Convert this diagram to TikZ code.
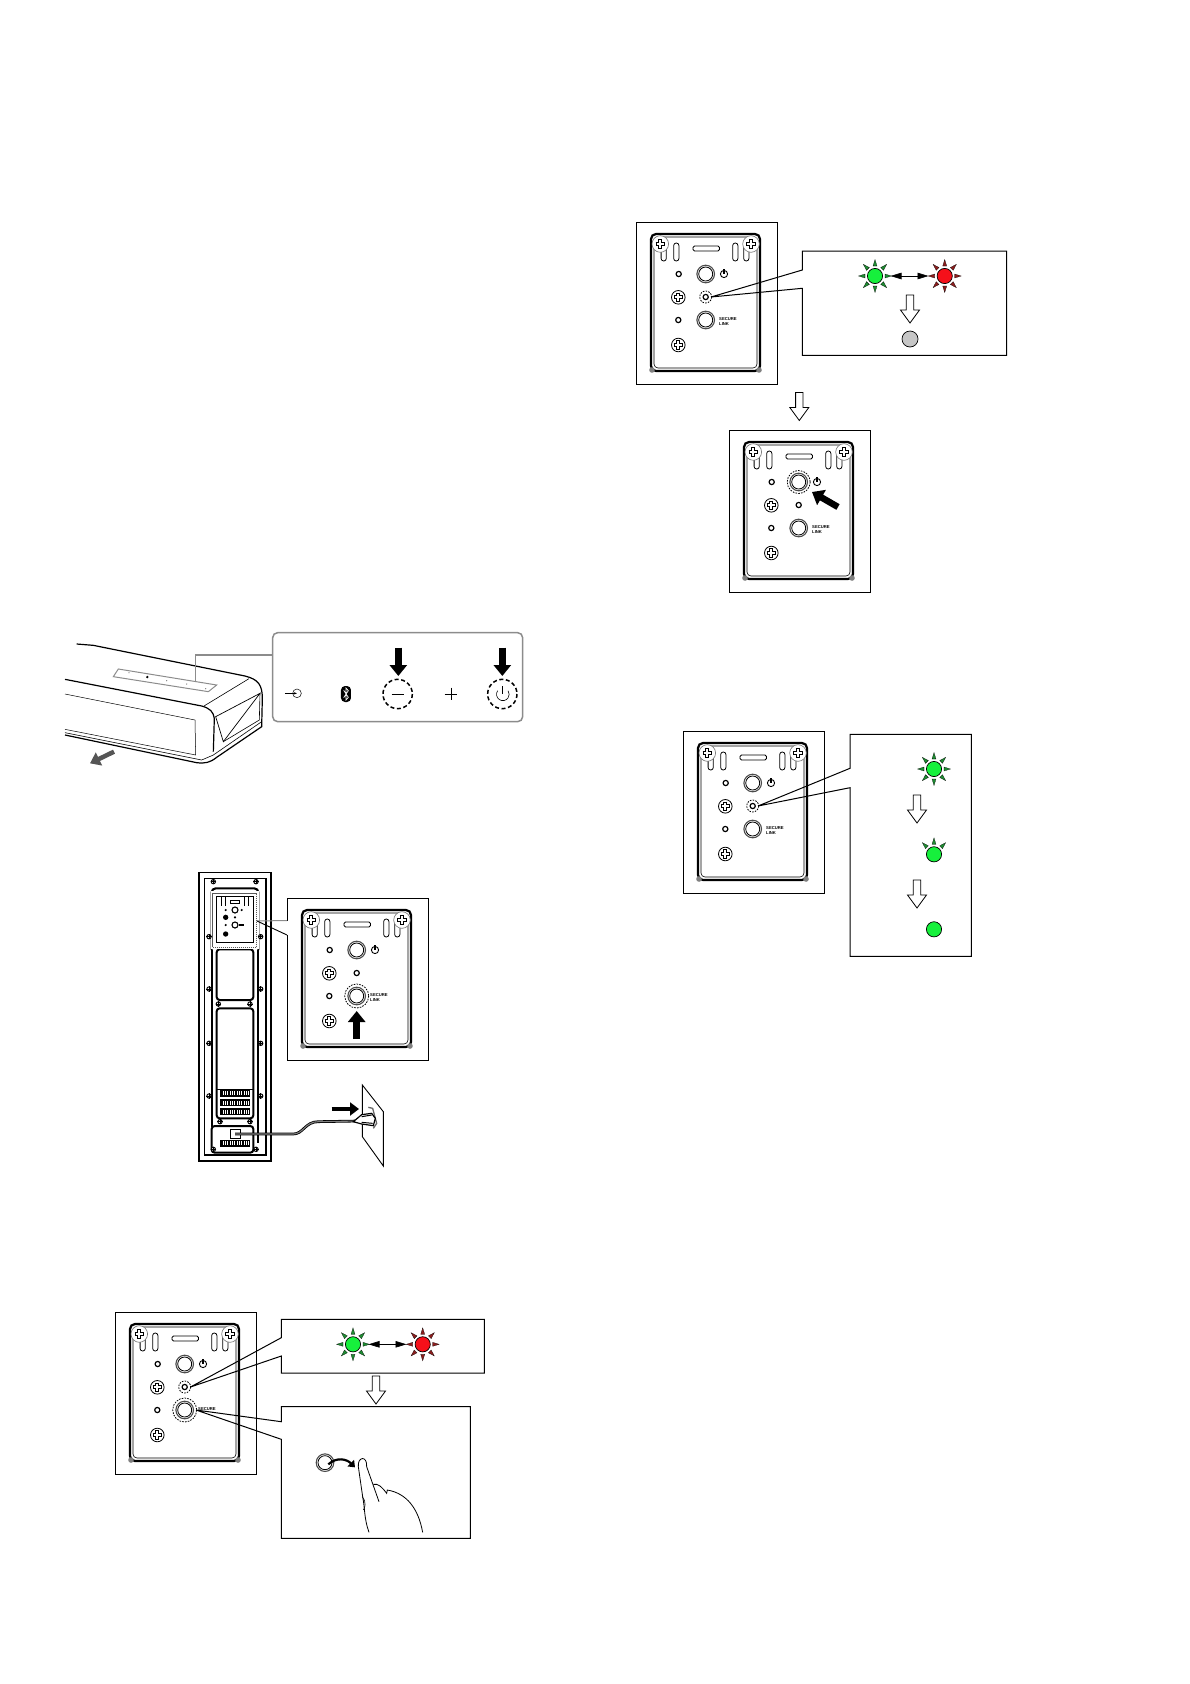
\documentclass[tikz,border=0pt]{standalone}
\usepackage{fontspec}
\setsansfont{Liberation Sans}
\usetikzlibrary{arrows.meta, positioning}

\definecolor{boxgray}{HTML}{8C8C8C}
\definecolor{bargray}{HTML}{555555}
\definecolor{ledgreen}{HTML}{16F03C}
\definecolor{raygreen}{HTML}{1E8C32}
\definecolor{ledred}{HTML}{F5101A}
\definecolor{rayred}{HTML}{8C1E1E}
\definecolor{ledoff}{HTML}{C6C6C6}

\tikzset{
  linktext/.store in=\linktextvalue,
  linktext={SECURE\\LINK},
  blockarrow/.style={-{Triangle[width=17pt,length=11pt]},line width=6.5pt},
  dashcirc/.style={dash pattern=on 1.6pt off 1.2pt,line width=.8pt},
  calloutline/.style={line width=1pt,line join=miter},
  % screw with an outlined cross
  pics/screwhead/.style={code={
    \draw[fill=white,line width=.8pt] (0,0) circle (6.8);
    \draw[line width=3.8pt] (-4.6,0) -- (4.6,0) (0,-4.6) -- (0,4.6);
    \draw[white,line width=2.2pt] (-3.8,0) -- (3.8,0) (0,-3.8) -- (0,3.8);
  }},
  pics/cornerscrew/.style={code={
    \draw[fill=white,line width=.6pt,draw=black!55] (0,0) circle (8.3);
    \draw[line width=3.8pt] (-4.6,0) -- (4.6,0) (0,-4.6) -- (0,4.6);
    \draw[white,line width=2.2pt] (-3.8,0) -- (3.8,0) (0,-3.8) -- (0,3.8);
  }},
  pics/smallled/.style={code={
    \draw[fill=white,line width=1.2pt] (0,0) circle (2.6);
  }},
  pics/bigbutton/.style={code={
    \draw[fill=white,line width=1.1pt,draw=black!70] (0,0) circle (8.8);
    \draw[line width=.8pt] (0,0) circle (7);
  }},
  % the control plate, origin at the frame's top left corner
  pics/panel/.style={code={
    \draw[fill=white,line width=.9pt] (0,0) rectangle (141.5,162.5);
    \draw[line width=2.2pt,rounded corners=5] (15,12) rectangle (124,149);
    \draw[line width=.6pt,rounded corners=4] (18,15) rectangle (121,146);
    \foreach \x/\y in {16/148,123/148} {
      \fill[gray] (\x,\y) circle (2.8);
    }
    \foreach \x in {27.7,40.3,99.3,110.3} {
      \draw[fill=white,line width=.8pt,rounded corners=2.5] (\x-2.6,21) rectangle (\x+2.6,39);
    }
    \draw[fill=white,line width=.8pt,rounded corners=1.5] (57,24) rectangle (83.5,29);
    \pic at (24.3,22) {cornerscrew};
    \pic at (115,22) {cornerscrew};
    \pic at (42.3,75.3) {screwhead};
    \pic at (42.3,123) {screwhead};
    \pic at (42.7,52) {smallled};
    \pic at (42.3,98) {smallled};
    \pic at (69.7,75) {smallled};
    \pic at (69.7,52) {bigbutton};
    \pic at (69.7,98) {bigbutton};
    \draw[line width=.9pt] (88,52) circle (3.6);
    \draw[line width=1.1pt] (88,47) -- (88,52);
    \node[font=\fontsize{4.2}{5.2}\selectfont\sffamily\bfseries,align=left,inner sep=0pt,anchor=north west] (-linktext) at (83,95) {\linktextvalue};
    \coordinate (-power) at (69.7,52);
    \coordinate (-led) at (69.7,75);
    \coordinate (-link) at (69.7,98);
  }},
  % blinking lamp: fill, ray colour, ray directions
  pics/flash/.style n args={3}{code={
    \foreach \a in {#3} {
      \fill[#2,draw=black,line width=.2pt,rotate=\a] (10,-2) -- (16.5,0) -- (10,2) -- cycle;
    }
    \draw[fill=#1,line width=.7pt] (0,0) circle (7.6);
  }},
  pics/hollowdown/.style={code={
    \draw[fill=white,line width=.8pt,line join=miter] (-3.7,0) -- (3.7,0) -- (3.7,15) -- (9.5,15) -- (0,28) -- (-9.5,15) -- (-3.7,15) -- cycle;
  }},
}

% open box with two lines running to its target
\newcommand{\calloutbox}[7]{%
  \draw[calloutline] (#7) -- (#1,#5) -- (#1,#2) -- (#3,#2) -- (#3,#4) -- (#1,#4) -- (#1,#6) -- (#7);
}
\newcommand{\greenred}[3]{%
  \pic (#1g) at (#2,#3) {flash={ledgreen}{raygreen}{0,45,...,315}};
  \pic (#1r) at (#2+69.7,#3) {flash={ledred}{rayred}{0,45,...,315}};
  \coordinate (#1a) at (#2+15.5,#3);
  \coordinate (#1b) at (#2+53.5,#3);
  \draw[{Triangle[length=11pt,width=6.5pt]}-{Triangle[length=11pt,width=6.5pt]},line width=.6pt] (#1a) -- (#1b);
}

\begin{document}
\begin{tikzpicture}[x=1pt,y=-1pt]
  \useasboundingbox (0,0) rectangle (1190,1684);

  % sound bar
  \begin{scope}[shift={(50,620)},scale=1/3]
    \draw[line width=1.2pt] (80,72) -- (130,76) -- (585,168) .. controls (625,178) and (637,195) .. (637,235) -- (635,320) -- (500,412) .. controls (480,428) and (465,431) .. (440,428) -- (45,345);
    \draw[line width=1.2pt] (45,178) -- (455,258) .. controls (480,265) and (490,275) .. (493,295) -- (490,395);
    \draw[line width=.5pt] (45,222) -- (435,300) -- (437,405) -- (45,328);
    \draw[line width=.6pt] (45,338) -- (455,420) -- (490,405) -- (635,305);
    \draw[line width=.6pt] (462,258) -- (597,176);
    \draw[line width=.7pt] (497,290) -- (630,220) -- (520,365) -- cycle;
    \draw[line width=.6pt] (630,220) -- (628,300) -- (520,365);
    \draw[boxgray,fill=white,line width=1pt] (205,147) -- (500,195) -- (475,215) -- (190,170) -- cycle;
    \foreach \x/\y in {237/158,350/182,410/192,467/206} {
      \fill[gray] (\x,\y) circle (2);
    }
    \fill (292,171) circle (4);
    \draw[boxgray,line width=1.1pt] (437,185) -- (437,105) -- (668,105);
    \draw[boxgray,fill=white,line width=1.5pt,rounded corners=5] (668,38) rectangle (1418,305);
    \draw[bargray,-{Triangle[width=14pt,length=10pt]},line width=4.5pt] (192,395) -- (120,430);

    % key icons
    \draw[line width=.5pt] (741,220) circle (13);
    \draw[-{Stealth[length=3pt]},line width=.6pt] (705,220) -- (741,220);
    \fill[rounded corners=4] (873,198) rectangle (903,246);
    \draw[white,line width=.7pt] (881,211) -- (895,232) -- (888,240) -- (888,204) -- (895,212) -- (881,233);
    \draw[line width=.6pt] (1025,222) -- (1061,222);
    \draw[line width=.6pt] (1184,222) -- (1222,222) (1203,203) -- (1203,241);
    \draw[line width=.6pt] (1343,212) arc[start angle=215,end angle=-35,radius=19];
    \draw[line width=.6pt] (1357,199) -- (1357,222);
    \draw[dash pattern=on 4pt off 2.6pt,line width=1.5pt] (1043,222) circle (44);
    \draw[dash pattern=on 4pt off 2.6pt,line width=1.5pt] (1357,222) circle (44);
    \draw[blockarrow] (1045,83) -- (1045,168);
    \draw[blockarrow] (1357,83) -- (1357,168);
  \end{scope}

  % speaker rear with mains cable
  \begin{scope}[shift={(190,860)},scale=1/3]
    \draw[line width=1.6pt] (27,38) rectangle (243,903);
    \draw[line width=1.2pt] (44,55) rectangle (228,885);
    \draw[line width=2.4pt] (27,903) -- (243,903);
    \draw[line width=2.1pt,rounded corners=4] (65,270) -- (65,85) -- (205,85) -- (205,270);
    \draw[line width=2.1pt] (65,270) -- (65,800) (205,270) -- (205,800);
    \draw[line width=2pt,rounded corners=3,fill=white] (80,268) rectangle (190,420);
    \draw[line width=2pt,rounded corners=3,fill=white] (80,445) rectangle (190,775);
    \draw[line width=2pt,rounded corners=3,fill=white] (65,798) rectangle (190,878);
    \draw[line width=2pt] (205,798) -- (205,850);
    \draw[line width=.5pt] (80,688) -- (190,688);
    \draw[white,line width=4pt] (68,100) rectangle (200,262);
    \draw[dash pattern=on 1.2pt off .8pt,line width=1pt,draw=black!65] (68,100) rectangle (200,262);
    \draw[line width=1pt] (78,108) -- (78,248) -- (190,248) -- (190,108) -- cycle;
    % vents
    \foreach \y in {700,728,755,850} {
      \draw[line width=1.1pt] (92,\y-8) rectangle (178,\y+8);
      \foreach \x in {96,103,...,175} {
        \draw[line width=1.1pt] (\x,\y-8) -- (\x,\y+8);
      }
    }
    % fixing screws
    \foreach \x/\y in {70/65,198/65,70/868,198/868,57/230,212/230,57/387,212/387,57/550,212/550,57/708,212/708,85/432,180/432,90/785,180/785} {
      \draw[fill=white,line width=1pt] (\x,\y) circle (6.5);
      \draw[line width=1pt] (\x-8,\y) -- (\x+8,\y) (\x,\y-8) -- (\x,\y+8);
    }
    % small copy of the plate
    \foreach \x in {93,107,162,175} {
      \draw[line width=1pt] (\x,112) -- (\x,138);
    }
    \draw[line width=1pt] (121,122) rectangle (149,129);
    \foreach \x/\y in {107/150,135/172,107/195} {
      \fill (\x,\y) circle (3.5);
    }
    \foreach \y in {172,222} {
      \fill (107,\y) circle (8);
    }
    \foreach \y in {150,195} {
      \draw[line width=1.1pt] (135,\y) circle (9);
    }
    \fill (155,150) circle (3.5);
    \fill (148,191) rectangle (163,199);

    % wall and plug
    \draw[fill=white,line width=.9pt,line join=miter] (517,675) -- (580,755) -- (580,918) -- (517,830) -- cycle;
    \draw[black!60,line width=1.3pt] (535,742) -- (548,745) -- (560,790) -- (550,805);
    \draw[fill=white,line width=1pt] (120,808) rectangle (152,835);
    \coordinate (plugin) at (135,822);
    \coordinate (plugend) at (508,783);
    \draw[line width=2.7pt] (plugin) -- (310,822) .. controls (340,822) and (345,785) .. (385,785) -- (plugend);
    \draw[gray,line width=1.1pt] (plugin) -- (310,822) .. controls (340,822) and (345,785) .. (385,785) -- (plugend);
    \draw[fill=white,line width=1.2pt] (490,785) -- (515,764) -- (545,760) -- (556,775) -- (550,797) -- (515,792) -- cycle;
    \draw[line width=1pt] (515,770) -- (545,765) (515,787) -- (548,790);
    \draw[-{Triangle[width=13pt,length=9pt]},line width=4.5pt] (425,747) -- (507,747);
  \end{scope}

  % plate beside the speaker
  \coordinate (spkplate) at (257,921);
  \pic (pa) at (287,898) {panel};
  \draw[white,line width=2pt] (287,920.5) -- (287,935);
  \draw[boxgray,line width=1pt] (287,920.5) -- (spkplate);
  \draw[line width=.9pt] (287,935) -- (spkplate);
  \draw[dashcirc] (pa-link) circle (12);
  \draw[blockarrow] (356.7,1039) -- (356.7,1011);

  % plate with the link key and lamp called out
  \pic[linktext=SECURE] (pc) at (115,1312) {panel};
  \draw[dashcirc] (pc-led) circle (6);
  \draw[dashcirc] (pc-link) circle (12);
  \coordinate (ledtip) at (190.5,1387);
  \coordinate (linktip) at (196,1410);
  \calloutbox{281.3}{1319.3}{484.3}{1373}{1337.7}{1356}{ledtip}
  \calloutbox{281.3}{1406.7}{470.3}{1538.3}{1421.7}{1439.3}{linktip}
  \greenred{lamp}{353}{1344.3}
  \pic (dna) at (376,1376) {hollowdown};

  % finger on the button
  \begin{scope}[shift={(110,1305)},scale=1/3]
    \pic (pressed) at (645,473) {bigbutton};
    \draw[-{Triangle[width=9pt,length=6pt]},line width=2.2pt] (655,478) .. controls (680,455) and (710,462) .. (735,487);
    \draw[line width=.8pt] (777,682) .. controls (762,640) and (765,610) .. (758,575) -- (745,485) .. controls (742,455) and (772,450) .. (770,485) -- (807,590);
    \draw[line width=.8pt] (790,538) .. controls (805,535) and (815,545) .. (830,565) -- (832,555) .. controls (890,565) and (925,610) .. (938,682);
    \draw[line width=.6pt] (757,575) .. controls (770,590) and (765,610) .. (760,615);
  \end{scope}

  % blinking then off
  \pic (pd) at (636,222) {panel};
  \draw[dashcirc] (pd-led) circle (6);
  \coordinate (ledtipb) at (711,297);
  \calloutbox{802.3}{251}{1006.7}{355.3}{270}{288.3}{ledtipb}
  \greenred{lampb}{875}{276}
  \pic (dnb) at (910,295) {hollowdown};
  \draw[fill=ledoff,line width=.7pt] (910,339) circle (8);
  \pic (dnc) at (799.3,392.5) {hollowdown};

  % press the power key
  \pic (pe) at (729,430) {panel};
  \draw[dashcirc] (pe-power) circle (11.5);
  \draw[blockarrow] (838,507) -- (812,492);

  % lamp slows down and stays on
  \pic (pf) at (683,731) {panel};
  \draw[dashcirc] (pf-led) circle (6);
  \coordinate (ledtipc) at (758,806);
  \calloutbox{850}{734.3}{971.3}{956.3}{768.3}{787.7}{ledtipc}
  \pic (ga) at (934,769) {flash={ledgreen}{raygreen}{0,45,...,315}};
  \pic (dnd) at (917,795) {hollowdown};
  \pic (gb) at (934,854.3) {flash={ledgreen}{raygreen}{45,90,135}};
  \pic (dne) at (917,880) {hollowdown};
  \pic (gc) at (934,929.3) {flash={ledgreen}{raygreen}{}};
\end{tikzpicture}
\end{document}
